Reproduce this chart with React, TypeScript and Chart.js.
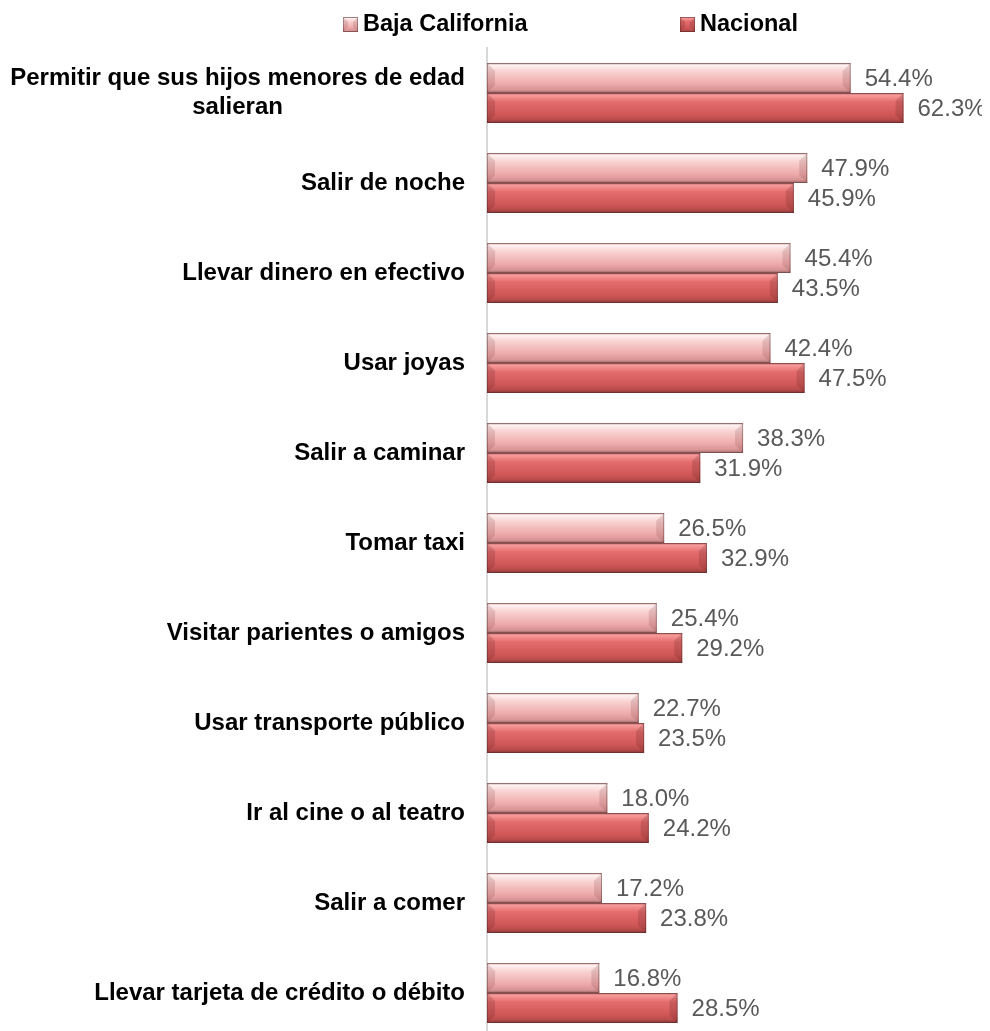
import React, { useEffect, useRef } from "react";
import { Chart, registerables } from "chart.js";
Chart.register(...registerables);

const categories: string[][] = [
  ["Permitir que sus hijos menores de edad", "salieran"],
  ["Salir de noche"],
  ["Llevar dinero en efectivo"],
  ["Usar joyas"],
  ["Salir a caminar"],
  ["Tomar taxi"],
  ["Visitar parientes o amigos"],
  ["Usar transporte público"],
  ["Ir al cine o al teatro"],
  ["Salir a comer"],
  ["Llevar tarjeta de crédito o débito"],
];
const bajaCalifornia = [54.4, 47.9, 45.4, 42.4, 38.3, 26.5, 25.4, 22.7, 18.0, 17.2, 16.8];
const nacional = [62.3, 45.9, 43.5, 47.5, 31.9, 32.9, 29.2, 23.5, 24.2, 23.8, 28.5];
const seriesNames = ["Baja California", "Nacional"];

const FONT = '"Liberation Sans", Arial, sans-serif';

const palettes = [
  { stops: ["#b98888", "#fff2f2", "#f9d0d0", "#eeaaaa", "#d89494", "#9a6464"], edge: "rgba(120,60,60,0.18)" },
  { stops: ["#a85858", "#f89c9c", "#e46c6c", "#d25858", "#b84a4a", "#7a3434"], edge: "rgba(90,30,30,0.2)" },
];

function fillBar(ctx: CanvasRenderingContext2D, x0: number, x1: number, top: number, bottom: number, di: number) {
  const p = palettes[di];
  const h = bottom - top;
  const g = ctx.createLinearGradient(0, top, 0, bottom);
  g.addColorStop(0, p.stops[0]);
  g.addColorStop(0.07, p.stops[1]);
  g.addColorStop(0.3, p.stops[2]);
  g.addColorStop(0.7, p.stops[3]);
  g.addColorStop(0.9, p.stops[4]);
  g.addColorStop(1, p.stops[5]);
  ctx.fillStyle = g;
  ctx.fillRect(x0, top, x1 - x0, h);
  const bev = Math.min(8, h / 3);
  ctx.fillStyle = p.edge;
  ctx.beginPath();
  ctx.moveTo(x0, top);
  ctx.lineTo(x0 + bev, top + bev);
  ctx.lineTo(x0 + bev, bottom - bev);
  ctx.lineTo(x0, bottom);
  ctx.closePath();
  ctx.fill();
  ctx.beginPath();
  ctx.moveTo(x1, top);
  ctx.lineTo(x1 - bev, top + bev);
  ctx.lineTo(x1 - bev, bottom - bev);
  ctx.lineTo(x1, bottom);
  ctx.closePath();
  ctx.fill();
  ctx.strokeStyle = "rgba(80,40,40,0.4)";
  ctx.lineWidth = 1;
  ctx.strokeRect(x0 + 0.5, top + 0.5, x1 - x0 - 1, h - 1);
}

const customPlugin = {
  id: "custom",
  afterDatasetsDraw(chart: any) {
    const ctx: CanvasRenderingContext2D = chart.ctx;
    ctx.save();
    chart.data.datasets.forEach((ds: any, di: number) => {
      const meta = chart.getDatasetMeta(di);
      meta.data.forEach((el: any, i: number) => {
        const top = el.y - el.height / 2;
        const bottom = el.y + el.height / 2;
        fillBar(ctx, el.base, el.x, top, bottom, di);
        ctx.fillStyle = "#595959";
        ctx.font = `24px ${FONT}`;
        ctx.textAlign = "left";
        ctx.textBaseline = "middle";
        ctx.fillText(ds.data[i].toFixed(1) + "%", el.x + 14, el.y + 1);
      });
    });
    const y = chart.scales.y;
    ctx.fillStyle = "#000";
    ctx.font = `bold 24px ${FONT}`;
    ctx.textBaseline = "middle";
    categories.forEach((lines, i) => {
      const cy = y.getPixelForValue(i);
      const lh = 29;
      if (lines.length === 1) {
        ctx.textAlign = "right";
        ctx.fillText(lines[0], 465 - 8, cy);
      } else {
        const w = ctx.measureText(lines[0]).width;
        const cx = 465 - 8 - w / 2;
        ctx.textAlign = "center";
        lines.forEach((ln, k) => {
          ctx.fillText(ln, cx, cy + (k - (lines.length - 1) / 2) * lh);
        });
      }
    });
    const items = [
      { x: 343 - 8, label: seriesNames[0], di: 0 },
      { x: 680 - 8, label: seriesNames[1], di: 1 },
    ];
    items.forEach((it) => {
      fillBar(ctx, it.x, it.x + 15, 17 - 8, 32 - 8, it.di);
      ctx.fillStyle = "#000";
      ctx.font = `bold 23.5px ${FONT}`;
      ctx.textAlign = "left";
      ctx.textBaseline = "middle";
      ctx.fillText(it.label, it.x + 20, 25 - 8);
    });
    ctx.restore();
  },
};

export default function App() {
  const ref = useRef<HTMLCanvasElement>(null);
  useEffect(() => {
    if (!ref.current) return;
    const chart = new Chart(ref.current, {
      type: "bar",
      data: {
        labels: categories.map((c) => c.join(" ")),
        datasets: [
          { label: seriesNames[0], data: bajaCalifornia, backgroundColor: "rgba(0,0,0,0)", borderWidth: 0 },
          { label: seriesNames[1], data: nacional, backgroundColor: "rgba(0,0,0,0)", borderWidth: 0 },
        ],
      },
      options: {
        indexAxis: "y",
        animation: false,
        responsive: false,
        maintainAspectRatio: false,
        layout: { padding: { top: 40, right: 27, bottom: 10, left: 0 } },
        plugins: { legend: { display: false }, tooltip: { enabled: false } },
        datasets: { bar: { categoryPercentage: 0.667, barPercentage: 1.0 } },
        scales: {
          x: { display: false, min: 0, max: 70 },
          y: {
            afterFit: (s: any) => { s.width = 479; },
            ticks: { display: false },
            grid: { display: false, drawTicks: false },
            border: { display: true, color: "#d9d9d9", width: 2 },
          },
        },
      },
      plugins: [customPlugin],
    });
    return () => chart.destroy();
  }, []);
  return (
    <div style={{ width: 974, height: 1040 }}>
      <canvas ref={ref} width={974} height={1040} style={{ width: 974, height: 1040 }} />
    </div>
  );
}
